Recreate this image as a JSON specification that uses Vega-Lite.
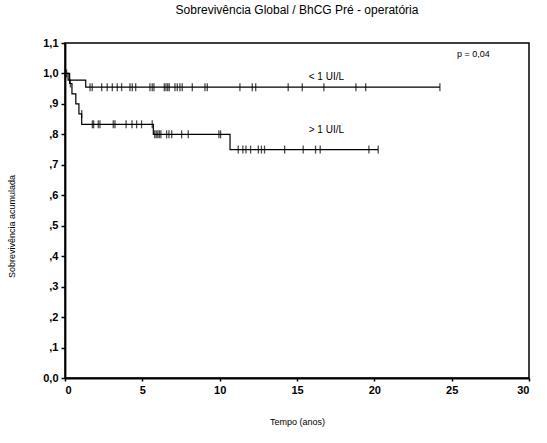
{
  "$schema": "https://vega.github.io/schema/vega-lite/v6.json",
  "autosize": "none",
  "width": 464,
  "height": 335,
  "padding": {"left": 65, "top": 43, "right": 18, "bottom": 65},
  "background": "white",
  "title": {
    "text": "Sobrevivência Global / BhCG Pré - operatória",
    "font": "Liberation Sans",
    "fontSize": 12,
    "fontWeight": "normal",
    "color": "black",
    "offset": 20,
    "anchor": "middle"
  },
  "config": {
    "view": {"stroke": "black", "strokeWidth": 1.5},
    "axis": {
      "grid": false,
      "domainColor": "black",
      "domainWidth": 1.8,
      "tickColor": "black",
      "tickSize": 4,
      "tickWidth": 1.5,
      "labelColor": "black",
      "labelFont": "Liberation Sans",
      "labelFontSize": 11,
      "labelFontWeight": "bold",
      "titleFont": "Liberation Sans",
      "titleColor": "black",
      "titleFontSize": 9,
      "titleFontWeight": "normal"
    }
  },
  "datasets": {
    "curves": [
      {"grupo": "< 1 UI/L", "tempo": 0, "sobrev": 1.0},
      {"grupo": "< 1 UI/L", "tempo": 0.2, "sobrev": 0.978},
      {"grupo": "< 1 UI/L", "tempo": 1.34, "sobrev": 0.955},
      {"grupo": "< 1 UI/L", "tempo": 24.24, "sobrev": 0.955},
      {"grupo": "> 1 UI/L", "tempo": 0, "sobrev": 1.0},
      {"grupo": "> 1 UI/L", "tempo": 0.3, "sobrev": 0.967},
      {"grupo": "> 1 UI/L", "tempo": 0.45, "sobrev": 0.933},
      {"grupo": "> 1 UI/L", "tempo": 0.7, "sobrev": 0.9},
      {"grupo": "> 1 UI/L", "tempo": 0.9, "sobrev": 0.867},
      {"grupo": "> 1 UI/L", "tempo": 1.08, "sobrev": 0.833},
      {"grupo": "> 1 UI/L", "tempo": 5.71, "sobrev": 0.8},
      {"grupo": "> 1 UI/L", "tempo": 10.67, "sobrev": 0.75},
      {"grupo": "> 1 UI/L", "tempo": 20.25, "sobrev": 0.75}
    ],
    "censor": [
      {"grupo": "< 1 UI/L", "tempo": 0.1, "sobrev": 1.0},
      {"grupo": "< 1 UI/L", "tempo": 1.62, "sobrev": 0.955},
      {"grupo": "< 1 UI/L", "tempo": 1.76, "sobrev": 0.955},
      {"grupo": "< 1 UI/L", "tempo": 2.37, "sobrev": 0.955},
      {"grupo": "< 1 UI/L", "tempo": 2.73, "sobrev": 0.955},
      {"grupo": "< 1 UI/L", "tempo": 3.06, "sobrev": 0.955},
      {"grupo": "< 1 UI/L", "tempo": 3.38, "sobrev": 0.955},
      {"grupo": "< 1 UI/L", "tempo": 3.66, "sobrev": 0.955},
      {"grupo": "< 1 UI/L", "tempo": 4.2, "sobrev": 0.955},
      {"grupo": "< 1 UI/L", "tempo": 4.35, "sobrev": 0.955},
      {"grupo": "< 1 UI/L", "tempo": 4.57, "sobrev": 0.955},
      {"grupo": "< 1 UI/L", "tempo": 5.49, "sobrev": 0.955},
      {"grupo": "< 1 UI/L", "tempo": 5.64, "sobrev": 0.955},
      {"grupo": "< 1 UI/L", "tempo": 5.75, "sobrev": 0.955},
      {"grupo": "< 1 UI/L", "tempo": 6.42, "sobrev": 0.955},
      {"grupo": "< 1 UI/L", "tempo": 6.53, "sobrev": 0.955},
      {"grupo": "< 1 UI/L", "tempo": 6.64, "sobrev": 0.955},
      {"grupo": "< 1 UI/L", "tempo": 6.74, "sobrev": 0.955},
      {"grupo": "< 1 UI/L", "tempo": 7.11, "sobrev": 0.955},
      {"grupo": "< 1 UI/L", "tempo": 7.26, "sobrev": 0.955},
      {"grupo": "< 1 UI/L", "tempo": 7.43, "sobrev": 0.955},
      {"grupo": "< 1 UI/L", "tempo": 7.58, "sobrev": 0.955},
      {"grupo": "< 1 UI/L", "tempo": 8.23, "sobrev": 0.955},
      {"grupo": "< 1 UI/L", "tempo": 9.05, "sobrev": 0.955},
      {"grupo": "< 1 UI/L", "tempo": 9.2, "sobrev": 0.955},
      {"grupo": "< 1 UI/L", "tempo": 11.31, "sobrev": 0.955},
      {"grupo": "< 1 UI/L", "tempo": 12.11, "sobrev": 0.955},
      {"grupo": "< 1 UI/L", "tempo": 12.33, "sobrev": 0.955},
      {"grupo": "< 1 UI/L", "tempo": 14.43, "sobrev": 0.955},
      {"grupo": "< 1 UI/L", "tempo": 15.34, "sobrev": 0.955},
      {"grupo": "< 1 UI/L", "tempo": 16.74, "sobrev": 0.955},
      {"grupo": "< 1 UI/L", "tempo": 18.81, "sobrev": 0.955},
      {"grupo": "< 1 UI/L", "tempo": 19.44, "sobrev": 0.955},
      {"grupo": "< 1 UI/L", "tempo": 24.24, "sobrev": 0.955},
      {"grupo": "> 1 UI/L", "tempo": 0.35, "sobrev": 0.967},
      {"grupo": "> 1 UI/L", "tempo": 1.08, "sobrev": 0.867},
      {"grupo": "> 1 UI/L", "tempo": 1.77, "sobrev": 0.833},
      {"grupo": "> 1 UI/L", "tempo": 1.85, "sobrev": 0.833},
      {"grupo": "> 1 UI/L", "tempo": 2.15, "sobrev": 0.833},
      {"grupo": "> 1 UI/L", "tempo": 2.26, "sobrev": 0.833},
      {"grupo": "> 1 UI/L", "tempo": 3.12, "sobrev": 0.833},
      {"grupo": "> 1 UI/L", "tempo": 3.23, "sobrev": 0.833},
      {"grupo": "> 1 UI/L", "tempo": 3.95, "sobrev": 0.833},
      {"grupo": "> 1 UI/L", "tempo": 4.33, "sobrev": 0.833},
      {"grupo": "> 1 UI/L", "tempo": 4.63, "sobrev": 0.833},
      {"grupo": "> 1 UI/L", "tempo": 4.95, "sobrev": 0.833},
      {"grupo": "> 1 UI/L", "tempo": 5.64, "sobrev": 0.833},
      {"grupo": "> 1 UI/L", "tempo": 5.8, "sobrev": 0.8},
      {"grupo": "> 1 UI/L", "tempo": 5.9, "sobrev": 0.8},
      {"grupo": "> 1 UI/L", "tempo": 6.0, "sobrev": 0.8},
      {"grupo": "> 1 UI/L", "tempo": 6.1, "sobrev": 0.8},
      {"grupo": "> 1 UI/L", "tempo": 6.2, "sobrev": 0.8},
      {"grupo": "> 1 UI/L", "tempo": 6.57, "sobrev": 0.8},
      {"grupo": "> 1 UI/L", "tempo": 6.72, "sobrev": 0.8},
      {"grupo": "> 1 UI/L", "tempo": 6.9, "sobrev": 0.8},
      {"grupo": "> 1 UI/L", "tempo": 7.54, "sobrev": 0.8},
      {"grupo": "> 1 UI/L", "tempo": 7.97, "sobrev": 0.8},
      {"grupo": "> 1 UI/L", "tempo": 9.95, "sobrev": 0.8},
      {"grupo": "> 1 UI/L", "tempo": 10.06, "sobrev": 0.8},
      {"grupo": "> 1 UI/L", "tempo": 11.2, "sobrev": 0.75},
      {"grupo": "> 1 UI/L", "tempo": 11.5, "sobrev": 0.75},
      {"grupo": "> 1 UI/L", "tempo": 11.7, "sobrev": 0.75},
      {"grupo": "> 1 UI/L", "tempo": 12.0, "sobrev": 0.75},
      {"grupo": "> 1 UI/L", "tempo": 12.5, "sobrev": 0.75},
      {"grupo": "> 1 UI/L", "tempo": 12.7, "sobrev": 0.75},
      {"grupo": "> 1 UI/L", "tempo": 12.9, "sobrev": 0.75},
      {"grupo": "> 1 UI/L", "tempo": 14.2, "sobrev": 0.75},
      {"grupo": "> 1 UI/L", "tempo": 15.4, "sobrev": 0.75},
      {"grupo": "> 1 UI/L", "tempo": 16.2, "sobrev": 0.75},
      {"grupo": "> 1 UI/L", "tempo": 16.5, "sobrev": 0.75},
      {"grupo": "> 1 UI/L", "tempo": 19.65, "sobrev": 0.75},
      {"grupo": "> 1 UI/L", "tempo": 20.25, "sobrev": 0.75}
    ],
    "labels": [
      {"texto": "p = 0,04", "tempo": 26.4, "sobrev": 1.065, "tam": 9},
      {"texto": "< 1 UI/L", "tempo": 16.9, "sobrev": 0.988, "tam": 10},
      {"texto": "> 1 UI/L", "tempo": 16.9, "sobrev": 0.814, "tam": 10}
    ]
  },
  "encoding": {
    "x": {
      "field": "tempo", "type": "quantitative",
      "scale": {"domain": [0, 30], "nice": false, "zero": false},
      "axis": {"values": [0, 5, 10, 15, 20, 25, 30], "title": "Tempo (anos)", "titlePadding": 22, "labelPadding": 3, "tickSize": 3}
    },
    "y": {
      "field": "sobrev", "type": "quantitative",
      "scale": {"domain": [0, 1.1], "nice": false},
      "axis": {
        "values": [0, 0.1, 0.2, 0.3, 0.4, 0.5, 0.6, 0.7, 0.8, 0.9, 1.0, 1.1],
        "tickCount": 12,
        "labelOverlap": false,
        "labelFlush": false,
        "labelExpr": "datum.value < 0.05 ? '0,0' : datum.value < 0.95 ? ',' + format(datum.value * 10, '.0f') : replace(format(datum.value, '.1f'), '.', ',')",
        "title": "Sobrevivência acumulada",
        "titlePadding": 26,
        "titleY": 183,
        "labelPadding": 3
      }
    }
  },
  "layer": [
    {
      "data": {"name": "curves"},
      "mark": {"type": "line", "interpolate": "step-after", "color": "black", "strokeWidth": 1.2},
      "encoding": {"detail": {"field": "grupo"}}
    },
    {
      "data": {"name": "censor"},
      "mark": {"type": "tick", "orient": "vertical", "color": "black", "size": 8, "thickness": 1.3},
      "encoding": {}
    },
    {
      "data": {"name": "labels"},
      "mark": {"type": "text", "color": "black", "font": "Liberation Sans", "align": "center", "baseline": "middle"},
      "encoding": {
        "text": {"field": "texto"},
        "size": {"field": "tam", "type": "quantitative", "scale": null}
      }
    }
  ]
}
